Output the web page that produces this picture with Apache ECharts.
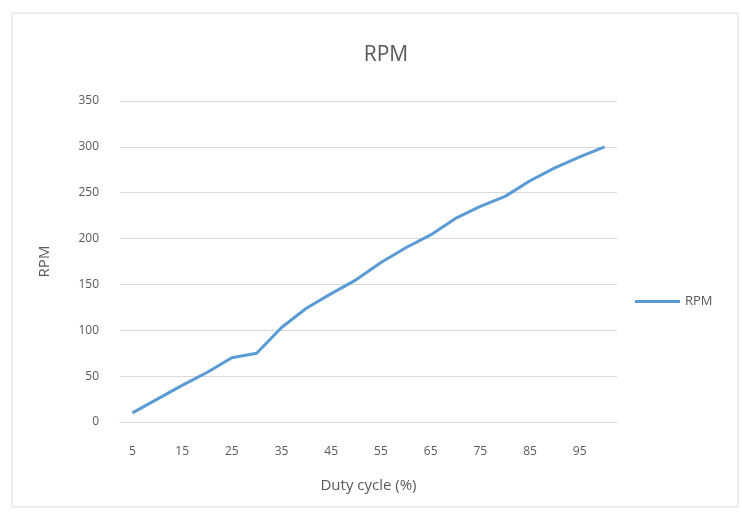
<!DOCTYPE html>
<html>
<head>
<meta charset="utf-8">
<script src="https://cdn.jsdelivr.net/npm/echarts@6/dist/echarts.min.js"></script>
<style>
  html, body { margin: 0; padding: 0; background: #fff; }
  #chart { width: 742px; height: 516px; }
</style>
</head>
<body>
<div id="chart"></div>
<script>
// duty cycle categories (%)
let dutyCycle = [5, 10, 15, 20, 25, 30, 35, 40, 45, 50, 55, 60, 65, 70, 75, 80, 85, 90, 95, 100];
// measured rpm at each duty cycle
let rpm = [10, 25, 40, 54, 70, 75, 103, 124, 140, 155, 174, 190, 204, 222, 235, 246, 263, 277, 289, 300];
let seriesName = "RPM";

const myChart = echarts.init(document.getElementById("chart"), null, { renderer: "canvas" });

const textColor = "#595959";
const fontFamily = "'Open Sans', 'Liberation Sans', sans-serif";

let option = {
  backgroundColor: "#fff",
  animation: false,
  textStyle: { fontFamily: fontFamily },
  graphic: [
    {
      type: "rect",
      shape: { x: 12, y: 13, width: 726, height: 494 },
      style: { fill: "none", stroke: "#d9d9d9", lineWidth: 1 },
      silent: true,
    },
  ],
  title: {
    text: "RPM",
    left: 381,
    top: 40,
    textAlign: "center",
    textStyle: { color: textColor, fontSize: 21, fontWeight: "normal", fontFamily: fontFamily },
  },
  legend: {
    data: [seriesName],
    orient: "vertical",
    left: 630,
    top: 290,
    itemWidth: 45,
    itemHeight: 3,
    itemGap: 5,
    icon: "rect",
    textStyle: { color: textColor, fontSize: 13, fontFamily: fontFamily },
  },
  grid: { left: 120, right: 125, top: 101, bottom: 94 },
  xAxis: {
    type: "category",
    data: dutyCycle,
    boundaryGap: true,
    name: "Duty cycle (%)",
    nameLocation: "middle",
    nameGap: 56,
    nameTextStyle: { color: textColor, fontSize: 15 },
    axisLine: { lineStyle: { color: "#d9d9d9", width: 1 } },
    axisTick: { show: false },
    axisLabel: { interval: 1, color: textColor, fontSize: 12, margin: 24 },
  },
  yAxis: {
    type: "value",
    min: 0,
    max: 350,
    interval: 50,
    name: "RPM",
    nameLocation: "middle",
    nameGap: 68,
    nameRotate: 90,
    nameTextStyle: { color: textColor, fontSize: 15 },
    axisLine: { show: false },
    axisTick: { show: false },
    axisLabel: { color: textColor, fontSize: 12, margin: 21 },
    splitLine: { lineStyle: { color: "#d9d9d9", width: 1 } },
  },
  series: [
    {
      name: seriesName,
      type: "line",
      data: rpm,
      symbol: "none",
      lineStyle: { color: "#5b9bd5", width: 3 },
      itemStyle: { color: "#5b9bd5" },
    },
  ],
};

option && myChart.setOption(option);
</script>
</body>
</html>
